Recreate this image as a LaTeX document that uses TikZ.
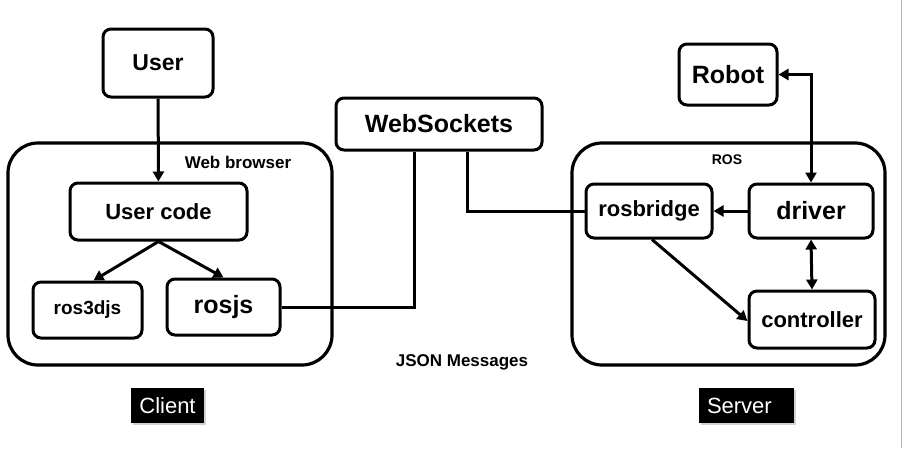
\documentclass[tikz,border=0pt]{standalone}
\usepackage{fontspec}
\setmainfont{Liberation Sans}
\usetikzlibrary{arrows.meta,shadows}

\begin{document}
\begin{tikzpicture}[>={Triangle[length=10pt,width=11pt]},x=1pt,y=-1pt,
box/.style={draw,line width=3pt,rounded corners=8pt,inner sep=0pt,font=\bfseries},
frame/.style={draw,line width=3.2pt,rounded corners=30pt,inner sep=0pt},
wire/.style={line width=3pt},
tag/.style={fill=black,text=white,inner sep=0pt,minimum height=35pt,font=\fontsize{22}{26}\selectfont,
  drop shadow={shadow xshift=1.5pt,shadow yshift=-1.5pt,opacity=.35}}]
\useasboundingbox (0,0) rectangle (905,448);
\draw[gray!60,line width=1pt] (901,0)--(901,448);
% frames
\node[frame,minimum width=324pt,minimum height=222pt] (web) at (170,254) {};
\node[frame,minimum width=313pt,minimum height=222pt] (ros) at (728.5,254) {};
\node[font=\bfseries\fontsize{17}{20}\selectfont] (weblbl) at (238,162) {Web browser};
\node[font=\bfseries\fontsize{14}{17}\selectfont] (roslbl) at (727,160) {ROS};
% client side
\node[box,minimum width=110pt,minimum height=68pt,font=\bfseries\fontsize{23}{27}\selectfont] (user) at (158,63) {User};
\node[box,minimum width=177pt,minimum height=57pt,font=\bfseries\fontsize{22}{26}\selectfont] (ucode) at (158.5,211.5) {User code};
\node[box,minimum width=109pt,minimum height=56pt,font=\bfseries\fontsize{19}{23}\selectfont] (r3d) at (87.5,310) {ros3djs};
\node[box,minimum width=113pt,minimum height=56pt,font=\bfseries\fontsize{25}{29}\selectfont] (rjs) at (223.5,307) {rosjs};
\node[box,minimum width=206pt,minimum height=52pt,font=\bfseries\fontsize{25}{29}\selectfont] (ws) at (439,124) {WebSockets};
% server side
\node[box,minimum width=98pt,minimum height=61pt,font=\bfseries\fontsize{25}{29}\selectfont] (robot) at (728,74.5) {Robot};
\node[box,minimum width=126pt,minimum height=54pt,font=\bfseries\fontsize{22}{26}\selectfont] (rb) at (649,211) {rosbridge};
\node[box,minimum width=124pt,minimum height=54pt,font=\bfseries\fontsize{25}{29}\selectfont] (drv) at (811,211) {driver};
\node[box,minimum width=126pt,minimum height=57pt,font=\bfseries\fontsize{22}{26}\selectfont] (ctl) at (812,319.5) {controller};
\node[font=\bfseries\fontsize{17}{20}\selectfont] (json) at (462,362) {JSON Messages};
\node[tag,minimum width=73pt] (client) at (167.5,405.5) {Client};
\node[tag,text width=79pt,inner xsep=8pt,align=left] (server) at (746.5,405.5) {Server};

\draw[wire,->] (user)--(ucode);
\draw[wire,->] (ucode.south)--([xshift=6pt]r3d.north);
\draw[wire,->] (ucode.south)--(rjs.north);
\draw[wire] (rjs.east)-|([xshift=-25pt]ws.south);
\draw[wire] ([xshift=28pt]ws.south)|-(rb.west);
\draw[wire,->] (drv)--(rb);
\draw[wire,<->] (robot.east)-|(drv.north);
\draw[wire,<->] (drv.south)--(ctl.north);
\draw[wire,->] ([xshift=3pt]rb.south)--([yshift=-1.5pt]ctl.west);
\end{tikzpicture}
\end{document}
